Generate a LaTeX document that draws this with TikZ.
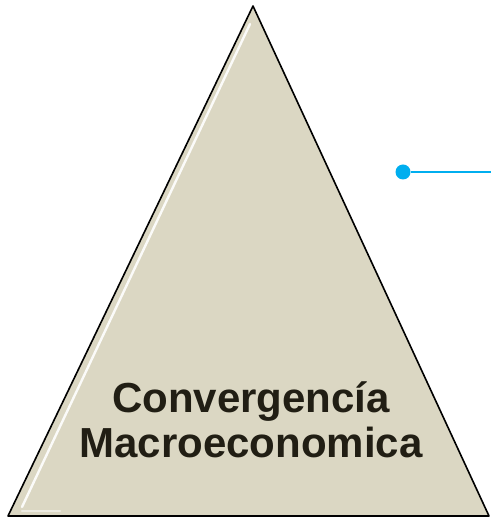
\documentclass[tikz,border=0pt]{standalone}
\usepackage{fontspec}
\setmainfont{Liberation Sans}
\usetikzlibrary{positioning}
\definecolor{bege}{RGB}{219,215,195}
\definecolor{texto}{RGB}{33,30,20}
\definecolor{azulC}{RGB}{0,174,239}

\begin{document}
\begin{tikzpicture}[x=1pt, y=1pt,
    piramide/.style={draw=black, line width=1.6pt, line join=round, fill=bege},
    brilho/.style={draw=white, line width=2.4pt, line cap=round, opacity=0.9},
    titulo/.style={font=\fontsize{42}{45}\selectfont\bfseries, text=texto, align=center, inner sep=0pt},
    ponto/.style={circle, fill=azulC, minimum size=15pt, inner sep=0pt},
    linha/.style={draw=azulC, line width=2.6pt}]
    \useasboundingbox (0,0) rectangle (491,519);
    \coordinate (topo) at (253,513);
    \coordinate (esq) at (8,3);
    \coordinate (dir) at (489,3);
    \draw[piramide] (topo) -- (esq) -- (dir) -- cycle;
    \draw[brilho] (250,495) -- (22,12);
    \draw[brilho, opacity=0.5] (22,8) -- (60,8);
    \node[titulo, anchor=base] (conv) at (251,61) {Convergencía\\Macroeconomica};
    \node[ponto] (dot) at (403,347) {};
    \coordinate (fim) at (491,347);
    \draw[linha] (dot) -- (fim);
  \end{tikzpicture}
\end{document}
